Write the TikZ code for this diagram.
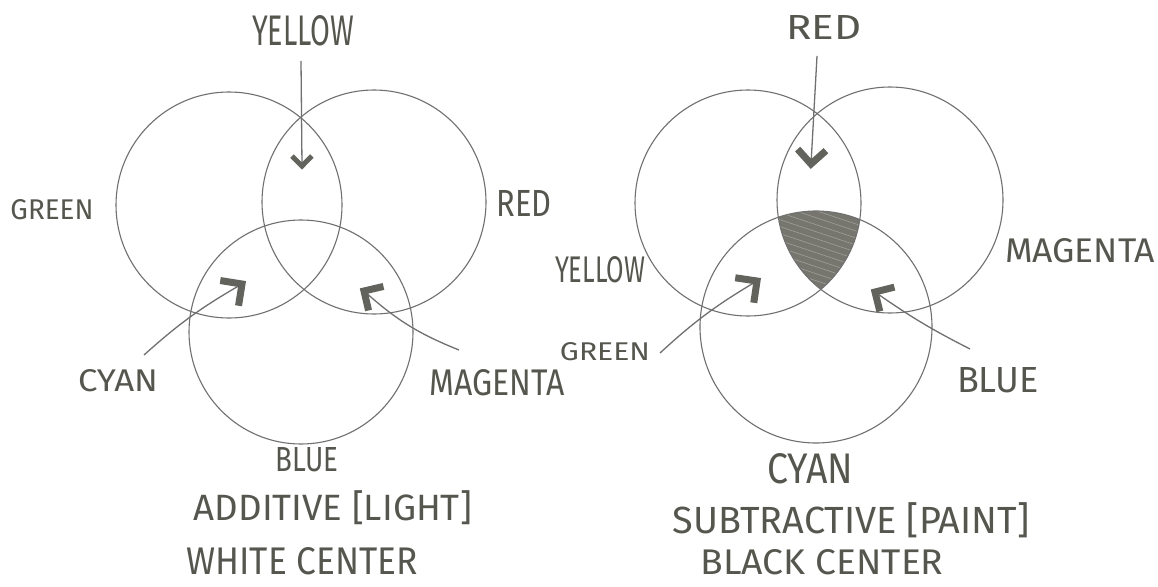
\documentclass[tikz,border=0pt]{standalone}
\usepackage{fontspec}
\setmainfont{Fira Sans}
\usetikzlibrary{calc}
\definecolor{pencil}{HTML}{707070}
\definecolor{lead}{HTML}{55574F}
\definecolor{graphite}{HTML}{76766F}
\definecolor{graphitelight}{HTML}{9A9A95}
\definecolor{graphitedark}{HTML}{62635C}
\newcommand\hand[3]{\resizebox{#1pt}{#2pt}{#3}}
\begin{document}
\begin{tikzpicture}[x=1pt,y=-1pt,
  ring/.style={draw=pencil, line width=1.1pt},
  lbl/.style={text=lead, inner sep=0pt},
  pointer/.style={draw=pencil, line width=1.3pt},
  barb/.style={draw=graphitedark, line width=7pt, line join=miter}]
\useasboundingbox[fill=white] (0,0) rectangle (1158,586);
% ---------- additive ----------
\coordinate (aG) at (229,205);
\coordinate (aR) at (374,202);
\coordinate (aB) at (301,332);
\draw[ring] (aG) circle[radius=113pt];
\draw[ring] (aR) circle[radius=112pt];
\draw[ring] (aB) circle[radius=112pt];
\node[lbl] (ayellow) at (303,31) {\hand{102}{30}{YELLOW}};
\node[lbl] (agreen) at (52,210) {\hand{83}{20}{GREEN}};
\node[lbl] (ared) at (524,203) {\hand{55}{26}{RED}};
\node[lbl] (acyan) at (118,381) {\hand{80}{22}{CYAN}};
\node[lbl] (amagenta) at (497,383) {\hand{135}{26}{MAGENTA}};
\node[lbl] (ablue) at (307,460) {\hand{63}{24}{BLUE}};
\node[lbl] (atitle) at (333,508) {\resizebox{278pt}{!}{ADDITIVE [LIGHT]}};
\node[lbl] (anote) at (302,561) {\hand{231}{27}{WHITE CENTER}};
\coordinate (aYtip) at (302,166);
\coordinate (aYs) at (301,61);
\coordinate (aCtip) at (242,284);
\coordinate (aCs) at (144,355);
\coordinate (aMtip) at (364,291);
\coordinate (aMs) at (459,350);
\draw[pointer] (aYs) -- (aYtip);
\draw[pointer] (aCs) to[bend left=6] (aCtip);
\draw[pointer] (aMs) to[bend left=10] (aMtip);
\draw[barb, line width=5pt] ($(aYtip)!14pt!45:(aYs)$) -- (aYtip) -- ($(aYtip)!14pt!-45:(aYs)$);
\draw[barb] ($(aCtip)!22pt!45:(aCs)$) -- (aCtip) -- ($(aCtip)!22pt!-45:(aCs)$);
\draw[barb] ($(aMtip)!20pt!45:(aMs)$) -- (aMtip) -- ($(aMtip)!20pt!-45:(aMs)$);
% ---------- subtractive ----------
\coordinate (sY) at (748,203);
\coordinate (sM) at (890,200);
\coordinate (sC) at (816,327);
\begin{scope}
  \clip (sY) circle[radius=113pt];
  \clip (sM) circle[radius=113pt];
  \clip (sC) circle[radius=116pt];
  \fill[graphite] (740,180) rectangle (900,320);
  \foreach \k in {0,...,16} {
    \draw[graphitelight, line width=0.7pt] (760,185+7*\k) -- (880,225+7*\k);
  }
\end{scope}
\draw[ring] (sY) circle[radius=113pt];
\draw[ring] (sM) circle[radius=113pt];
\draw[ring] (sC) circle[radius=116pt];
\node[lbl] (sred) at (824,27) {\hand{75}{24}{RED}};
\node[lbl] (syellow) at (600,270) {\hand{90}{26}{YELLOW}};
\node[lbl] (sgreen) at (605,352) {\hand{90}{18}{GREEN}};
\node[lbl] (smagenta) at (1080,251) {\hand{150}{24}{MAGENTA}};
\node[lbl] (sblue) at (998,380) {\hand{82}{25}{BLUE}};
\node[lbl] (scyan) at (810,469) {\hand{86}{30}{CYAN}};
\node[lbl] (stitle) at (851,520) {\resizebox{357pt}{!}{SUBTRACTIVE [PAINT]}};
\node[lbl] (snote) at (822,562) {\hand{243}{25}{BLACK CENTER}};
\coordinate (sRtip) at (811,164);
\coordinate (sRs) at (817,56);
\coordinate (sGtip) at (757,281);
\coordinate (sGs) at (660,353);
\coordinate (sBtip) at (875,292);
\coordinate (sBs) at (970,349);
\draw[pointer] (sRs) -- (sRtip);
\draw[pointer] (sGs) to[bend left=6] (sGtip);
\draw[pointer] (sBs) to[bend left=4] (sBtip);
\draw[barb] ($(sRtip)!20pt!45:(sRs)$) -- (sRtip) -- ($(sRtip)!20pt!-45:(sRs)$);
\draw[barb] ($(sGtip)!22pt!45:(sGs)$) -- (sGtip) -- ($(sGtip)!22pt!-45:(sGs)$);
\draw[barb] ($(sBtip)!20pt!45:(sBs)$) -- (sBtip) -- ($(sBtip)!20pt!-45:(sBs)$);
\end{tikzpicture}
\end{document}
